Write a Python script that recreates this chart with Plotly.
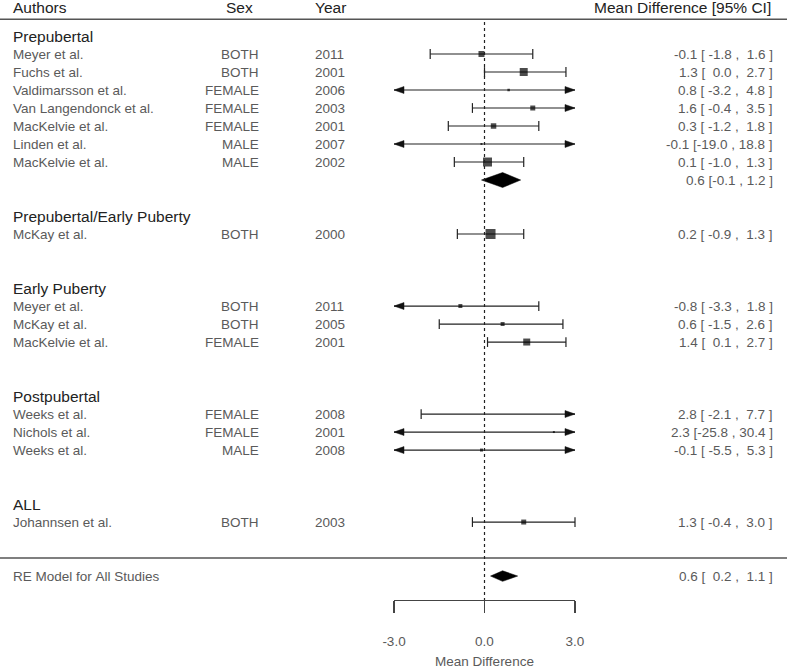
import plotly.graph_objects as go

# ---------------- data ----------------
group_names = ["Prepubertal", "Prepubertal/Early Puberty", "Early Puberty", "Postpubertal", "ALL"]
authors = ["Meyer et al.", "Fuchs et al.", "Valdimarsson et al.", "Van Langendonck et al.",
           "MacKelvie et al.", "Linden et al.", "MacKelvie et al.",
           "McKay et al.",
           "Meyer et al.", "McKay et al.", "MacKelvie et al.",
           "Weeks et al.", "Nichols et al.", "Weeks et al.",
           "Johannsen et al."]
sexes = ["BOTH", "BOTH", "FEMALE", "FEMALE", "FEMALE", "MALE", "MALE",
         "BOTH",
         "BOTH", "BOTH", "FEMALE",
         "FEMALE", "FEMALE", "MALE",
         "BOTH"]
years = [2011, 2001, 2006, 2003, 2001, 2007, 2002,
         2000,
         2011, 2005, 2001,
         2008, 2001, 2008,
         2003]
group_of = [0, 0, 0, 0, 0, 0, 0, 1, 2, 2, 2, 3, 3, 3, 4]
est = [-0.1, 1.3, 0.8, 1.6, 0.3, -0.1, 0.1, 0.2, -0.8, 0.6, 1.4, 2.8, 2.3, -0.1, 1.3]
ci_lo = [-1.8, 0.0, -3.2, -0.4, -1.2, -19.0, -1.0, -0.9, -3.3, -1.5, 0.1, -2.1, -25.8, -5.5, -0.4]
ci_hi = [1.6, 2.7, 4.8, 3.5, 1.8, 18.8, 1.3, 1.3, 1.8, 2.6, 2.7, 7.7, 30.4, 5.3, 3.0]
box_px = [6, 8, 2.5, 5, 5.5, 2, 9, 10, 4, 4, 7, 1, 2, 3, 5]

# subgroup summary (only Prepubertal)
sub_group = [0]
sub_est = [0.6]
sub_lo = [-0.1]
sub_hi = [1.2]

# overall RE model
overall_label = "RE Model for All Studies"
overall_est = 0.6
overall_lo = 0.2
overall_hi = 1.1

x_ticks = [-3.0, 0.0, 3.0]
x_tick_labels = ["-3.0", "0.0", "3.0"]
XLIM = (-3.0, 3.0)

# ---------------- layout geometry ----------------
W, H = 787, 669
L_PX, R_PX = 394, 575
Y_TOP, Y_BOT = -2.0, 31.33

def pp(xpix):
    return (xpix - L_PX) / (R_PX - L_PX)

NB = "\u00a0"
def nb(s):
    return s.replace(" ", NB)

# rows
heading_row = {}
study_row = []
sub_row = {}
row = 0
for g in range(len(group_names)):
    heading_row[g] = row
    row += 1
    for i, gi in enumerate(group_of):
        if gi == g:
            study_row.append(row)
            row += 1
    if g in sub_group:
        sub_row[g] = row
    row += 2
last_study = study_row[-1]
sep_row = last_study + 2
overall_row = last_study + 3

STUDY_FONT = dict(family="Liberation Sans, Arial, sans-serif", size=13.5, color="#5a5a5a")
HEAD_FONT = dict(family="Liberation Sans, Arial, sans-serif", size=15.5, color="#222222")

fig = go.Figure()

# CI lines, caps, arrows
lx, ly, cx, cy, axp, ayp = [], [], [], [], [], []
alen = 10 / ((R_PX - L_PX) / (XLIM[1] - XLIM[0]))
ahh = 3.5 / (600 / (Y_BOT - Y_TOP))
for i in range(len(est)):
    r = study_row[i]
    l = max(ci_lo[i], XLIM[0])
    h = min(ci_hi[i], XLIM[1])
    lx += [l, h, None]
    ly += [r, r, None]
    if ci_lo[i] < XLIM[0]:
        axp += [XLIM[0], XLIM[0] + alen, XLIM[0] + alen, XLIM[0], None]
        ayp += [r, r - ahh, r + ahh, r, None]
    else:
        cx.append(ci_lo[i]); cy.append(r)
    if ci_hi[i] > XLIM[1]:
        axp += [XLIM[1], XLIM[1] - alen, XLIM[1] - alen, XLIM[1], None]
        ayp += [r, r - ahh, r + ahh, r, None]
    else:
        cx.append(ci_hi[i]); cy.append(r)

fig.add_trace(go.Scatter(x=lx, y=ly, mode="lines", line=dict(color="#222222", width=1.2),
                         hoverinfo="skip", cliponaxis=False))
fig.add_trace(go.Scatter(x=cx, y=cy, mode="markers",
                         marker=dict(symbol="line-ns", size=7, line=dict(color="#222222", width=1.2)),
                         hoverinfo="skip", cliponaxis=False))
fig.add_trace(go.Scatter(x=axp, y=ayp, mode="lines", fill="toself", fillcolor="#111111",
                         line=dict(color="#111111", width=0.5), hoverinfo="skip", cliponaxis=False))
# squares
fig.add_trace(go.Scatter(x=est, y=study_row, mode="markers",
                         marker=dict(symbol="square", size=box_px, color="#000000", line=dict(width=0)),
                         hoverinfo="skip", cliponaxis=False))

# diamonds
dx, dy = [], []
for k, g in enumerate(sub_group):
    r = sub_row[g]
    hh = 7.5 / 18
    dx += [sub_lo[k], sub_est[k], sub_hi[k], sub_est[k], sub_lo[k], None]
    dy += [r, r - hh, r, r + hh, r, None]
hh = 5.3 / 18
dx += [overall_lo, overall_est, overall_hi, overall_est, overall_lo]
dy += [overall_row, overall_row - hh, overall_row, overall_row + hh, overall_row]
fig.add_trace(go.Scatter(x=dx, y=dy, mode="lines", fill="toself", fillcolor="#000000",
                         line=dict(color="#000000", width=0.5), hoverinfo="skip", cliponaxis=False))

ann = []
def add_text(text, xpix, y, anchor, font):
    ann.append(dict(text=nb(text), x=pp(xpix), xref="paper", y=y, yref="y",
                    xanchor=anchor, yanchor="middle", showarrow=False, font=font,
                    borderpad=0, borderwidth=0))

# header
hy = -1.56
add_text("Authors", 13, hy, "left", HEAD_FONT)
add_text("Sex", 226, hy, "left", HEAD_FONT)
add_text("Year", 315, hy, "left", HEAD_FONT)
add_text("Mean Difference [95% CI]", 771, hy, "right", HEAD_FONT)

for g, name in enumerate(group_names):
    add_text(name, 13, heading_row[g], "left", HEAD_FONT)

def ci_str(e, l, h):
    return f"{e:.1f} [{l:5.1f} , {h:4.1f} ]"

for i in range(len(est)):
    r = study_row[i]
    add_text(authors[i], 13, r, "left", STUDY_FONT)
    add_text(sexes[i], 259, r, "right", STUDY_FONT)
    add_text(str(years[i]), 315, r, "left", STUDY_FONT)
    add_text(ci_str(est[i], ci_lo[i], ci_hi[i]), 773, r, "right", STUDY_FONT)

for k, g in enumerate(sub_group):
    add_text(f"{sub_est[k]:.1f} [{sub_lo[k]:.1f} , {sub_hi[k]:.1f} ]", 773, sub_row[g], "right", STUDY_FONT)

add_text(overall_label, 13, overall_row, "left", STUDY_FONT)
add_text(ci_str(overall_est, overall_lo, overall_hi), 773, overall_row, "right", STUDY_FONT)

shapes = [
    dict(type="line", xref="paper", yref="y", x0=pp(0), x1=pp(W), y0=-0.93, y1=-0.93,
         line=dict(color="#555555", width=1.5)),
    dict(type="line", xref="paper", yref="y", x0=pp(0), x1=pp(W), y0=sep_row, y1=sep_row,
         line=dict(color="#555555", width=1.5)),
    dict(type="line", xref="x", yref="y", x0=0, x1=0, y0=-0.78, y1=Y_BOT,
         line=dict(color="#222222", width=1.2, dash="dot")),
]

fig.update_layout(
    width=W, height=H,
    margin=dict(l=L_PX, r=W - R_PX, t=0, b=69, pad=0),
    template="none",
    plot_bgcolor="white", paper_bgcolor="white",
    showlegend=False,
    annotations=ann,
    shapes=shapes,
    xaxis=dict(range=list(XLIM), showgrid=False, zeroline=False, showline=True,
               linecolor="#444444", linewidth=1.2, ticks="outside", ticklen=12,
               tickwidth=1.2, tickcolor="#444444", tickvals=x_ticks, ticktext=x_tick_labels,
               tickfont=dict(family="Liberation Sans, Arial, sans-serif", size=13.5, color="#5a5a5a"),
               ticklabelstandoff=17, automargin=False,
               title=dict(text="Mean Difference", standoff=10,
                          font=dict(family="Liberation Sans, Arial, sans-serif", size=13.5, color="#5a5a5a"))),
    yaxis=dict(range=[Y_BOT, Y_TOP], visible=False, automargin=False, showgrid=False, zeroline=False),
)

fig.write_html("out.html", config={"displayModeBar": False, "staticPlot": True},
               post_script="document.body.style.margin='0';document.body.style.overflow='hidden';")
